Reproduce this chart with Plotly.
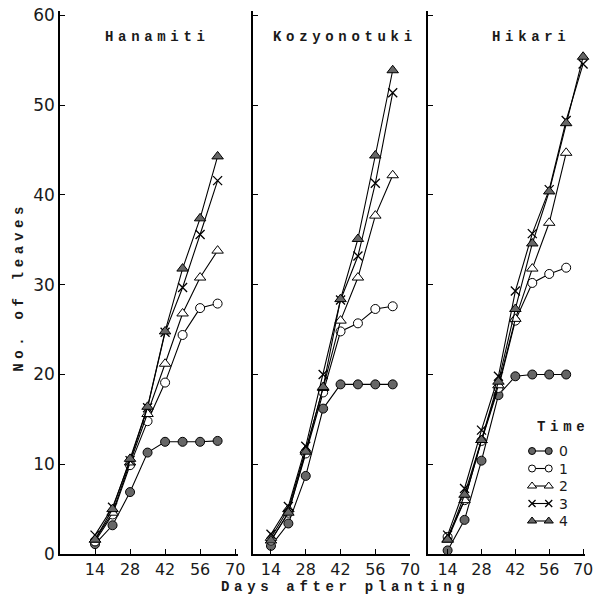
import plotly.graph_objects as go

# ---------------- data ----------------
days = [14, 21, 28, 35, 42, 49, 56, 63]
days_long = [14, 21, 28, 35, 42, 49, 56, 63, 70]
x_ticks = [14, 28, 42, 56, 70]
y_ticks = [0, 10, 20, 30, 40, 50, 60]
cultivars = ["Hanamiti", "Kozyonotuki", "Hikari"]
time_labels = ["0", "1", "2", "3", "4"]

hanamiti_t0 = [1.1, 3.2, 6.9, 11.3, 12.5, 12.5, 12.5, 12.6]
hanamiti_t1 = [1.4, 4.4, 9.9, 14.8, 19.1, 24.4, 27.4, 27.9]
hanamiti_t2 = [1.6, 4.6, 10.2, 15.6, 21.2, 26.8, 30.8, 33.8]
hanamiti_t3 = [2.1, 5.2, 10.4, 16.3, 24.7, 29.7, 35.6, 41.6]
hanamiti_t4 = [1.6, 5.0, 10.6, 16.4, 24.8, 31.8, 37.4, 44.3]

kozyonotuki_t0 = [0.9, 3.4, 8.7, 16.2, 18.9, 18.9, 18.9, 18.9]
kozyonotuki_t1 = [1.5, 4.6, 11.2, 18.0, 24.8, 25.7, 27.3, 27.6]
kozyonotuki_t2 = [1.8, 5.0, 11.6, 18.5, 26.0, 30.8, 37.7, 42.2]
kozyonotuki_t3 = [2.2, 5.3, 12.0, 20.0, 28.3, 33.2, 41.3, 51.4]
kozyonotuki_t4 = [1.5, 4.6, 11.4, 18.6, 28.4, 35.1, 44.4, 53.9]

hikari_t0 = [0.4, 3.8, 10.4, 17.7, 19.8, 20.0, 20.0, 20.0]
hikari_t1 = [1.9, 6.0, 12.6, 18.5, 26.0, 30.2, 31.2, 31.9]
hikari_t2 = [1.6, 6.0, 12.7, 18.8, 26.2, 31.8, 36.9, 44.7]
hikari_t3 = [2.1, 7.3, 13.8, 19.8, 29.3, 35.7, 40.6, 48.3, 54.6]
hikari_t4 = [1.6, 6.6, 12.7, 19.2, 27.3, 34.6, 40.4, 48.0, 55.4]

panel_series = [
    [(days, hanamiti_t0), (days, hanamiti_t1), (days, hanamiti_t2), (days, hanamiti_t3), (days, hanamiti_t4)],
    [(days, kozyonotuki_t0), (days, kozyonotuki_t1), (days, kozyonotuki_t2), (days, kozyonotuki_t3), (days, kozyonotuki_t4)],
    [(days, hikari_t0), (days, hikari_t1), (days, hikari_t2), (days_long, hikari_t3), (days_long, hikari_t4)],
]

# ---------------- styles ----------------
GRAY = "#666666"
marker_styles = [
    dict(symbol="circle", color=GRAY, size=9, line=dict(color="black", width=1)),
    dict(symbol="circle", color="white", size=9, line=dict(color="black", width=1)),
    dict(symbol="triangle-up", color="white", size=10, line=dict(color="black", width=1)),
    dict(symbol="x-thin-open", color="black", size=9, line=dict(color="black", width=1.3)),
    dict(symbol="triangle-up", color=GRAY, size=10, line=dict(color="black", width=1)),
]

W, H = 602, 597
ML, MR, MT, MB = 60, 5, 11, 43
PW = W - ML - MR
PH = H - MT - MB

def px_dom(a, b):
    return [(a - ML) / PW, (b - ML) / PW]

def paper_x(px):
    return (px - ML) / PW

def paper_y(py):
    return (H - MB - py) / PH

x_domains = [px_dom(60, 241), px_dom(257, 417), px_dom(435, 595)]
x_ranges = [[0, 71], [6.9, 70.1], [5.9, 70.8]]

MONO = "Liberation Mono"
SANS = "DejaVu Sans"
TXT = "#1a1a1a"

def spaced(s):
    return "\u2004".join(list(s))

fig = go.Figure()

for p in range(3):
    xa = "x" if p == 0 else f"x{p+1}"
    ya = "y" if p == 0 else f"y{p+1}"
    for k in range(5):
        xs, ys = panel_series[p][k]
        fig.add_trace(go.Scatter(
            x=xs, y=ys, mode="lines+markers", xaxis=xa, yaxis=ya,
            line=dict(color="black", width=1.1),
            marker=marker_styles[k], showlegend=False, cliponaxis=False,
        ))

layout = dict(
    width=W, height=H, margin=dict(l=ML, r=MR, t=MT, b=MB),
    plot_bgcolor="rgba(0,0,0,0)", paper_bgcolor="white", showlegend=False,
    font=dict(family=SANS, color=TXT),
)
for p in range(3):
    sfx = "" if p == 0 else str(p + 1)
    layout["xaxis" + sfx] = dict(
        domain=x_domains[p], range=x_ranges[p], anchor="y" + sfx,
        tickvals=x_ticks, ticks="inside", ticklen=5, tickwidth=1, tickcolor="black",
        showline=True, linewidth=1.5, linecolor="black", showgrid=False, zeroline=False,
        tickfont=dict(family=SANS, size=16, color=TXT), ticklabelstandoff=0,
    )
    layout["yaxis" + sfx] = dict(
        domain=[0, 1], range=[0, 60.5], anchor="x" + sfx,
        tickvals=y_ticks, ticks="inside", ticklen=5, tickwidth=1, tickcolor="black",
        showline=True, linewidth=1.5, linecolor="black", showgrid=False, zeroline=False,
        showticklabels=(p == 0),
        tickfont=dict(family=SANS, size=17, color=TXT), ticklabelstandoff=0,
    )
# extra axis in pixel units for legend placement
layout["xaxis4"] = dict(domain=[0, 1], range=[ML, W - MR], anchor="y4", visible=False,
                        showgrid=False, zeroline=False)
layout["yaxis4"] = dict(domain=[0, 1], range=[H - MB, MT], anchor="x4", visible=False,
                        showgrid=False, zeroline=False)
fig.update_layout(**layout)

# manual legend
legend_rows = [451, 468.5, 486, 503.5, 521]
for k in range(5):
    st = dict(marker_styles[k])
    st["size"] = st["size"] - 2
    fig.add_trace(go.Scatter(
        x=[541, 558], y=[legend_rows[k]] * 2, mode="lines+markers", xaxis="x4", yaxis="y4",
        line=dict(color="black", width=1.1), marker=st, showlegend=False, cliponaxis=False,
    ))
    fig.add_annotation(x=paper_x(567), y=paper_y(legend_rows[k]), xref="paper", yref="paper",
                       text=time_labels[k], showarrow=False, xanchor="left", yanchor="middle",
                       height=14, borderpad=0,
                       font=dict(family=SANS, size=14, color=TXT))
fig.add_annotation(x=paper_x(571), y=paper_y(427), xref="paper", yref="paper",
                   text=spaced("Time"), showarrow=False, xanchor="center", yanchor="middle",
                   height=14, borderpad=0,
                   font=dict(family=MONO, size=14, color=TXT, weight="bold"))

# panel titles
title_pos = [(157, 37), (348, 37), (538, 37)]
for name, (tx, ty) in zip(cultivars, title_pos):
    fig.add_annotation(x=paper_x(tx), y=paper_y(ty), xref="paper", yref="paper",
                       text=spaced(name), showarrow=False, xanchor="center", yanchor="middle",
                       font=dict(family=MONO, size=14, color=TXT, weight="bold"))

# axis titles
fig.add_annotation(x=paper_x(348), y=paper_y(587), xref="paper", yref="paper",
                   text=spaced("Days after planting"), showarrow=False,
                   xanchor="center", yanchor="middle", height=14, borderpad=0,
                   font=dict(family=MONO, size=14, color=TXT, weight="bold"))
fig.add_annotation(x=paper_x(18), y=paper_y(289), xref="paper", yref="paper",
                   text=spaced("No. of leaves"), showarrow=False,
                   xanchor="center", yanchor="middle", textangle=-90,
                   font=dict(family=MONO, size=14, color=TXT, weight="bold"))

fig.write_html("out.html")
